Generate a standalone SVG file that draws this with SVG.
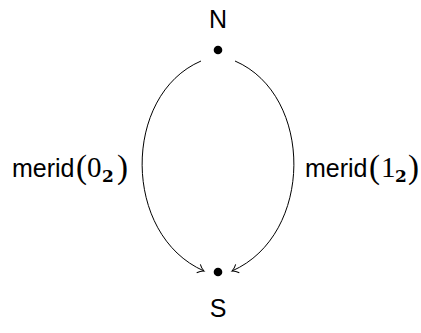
<svg xmlns="http://www.w3.org/2000/svg" width="421" height="333" viewBox="0 0 421 333">
<style>
.lbl{font-family:"Liberation Sans",Arial,sans-serif;font-size:25px;fill:#000}
.p{font-family:"Liberation Serif","Times New Roman",serif;font-size:33px}
.m{font-family:"Liberation Serif","Times New Roman",serif;font-size:29px}
.sub{font-family:"DejaVu Serif","Liberation Serif",serif;font-weight:bold;font-size:17px}
.edge{fill:none;stroke:#000;stroke-width:1}
</style>
<defs>
<marker id="arr" markerWidth="12" markerHeight="12" refX="9" refY="6" orient="auto" markerUnits="userSpaceOnUse">
<path d="M3,1.5 Q6,5 9,6 Q6,7 3,10.5" fill="none" stroke="#000" stroke-width="1"/>
</marker>
</defs>
<rect width="421" height="333" fill="#fff"/>
<g id="N">
<circle cx="218" cy="50" r="4.3" fill="#000"/>
<text class="lbl" x="218" y="28" text-anchor="middle">N</text>
</g>
<g id="S">
<circle cx="218" cy="272" r="4.3" fill="#000"/>
<text class="lbl" x="218" y="317" text-anchor="middle">S</text>
</g>
<g id="connectors">
<path class="edge" d="M201,61 C122,95 122,235 204,271" marker-end="url(#arr)"/>
<path class="edge" d="M235,61 C314,95 314,235 232,271" marker-end="url(#arr)"/>
</g>
<g id="label-left">
<text class="lbl" y="177"><tspan x="12">merid</tspan><tspan class="p" x="76" dy="1">(</tspan><tspan class="m" x="87" dy="-1">0</tspan><tspan class="sub" x="102" dy="5">2</tspan><tspan class="p" x="117" dy="-4">)</tspan></text>
</g>
<g id="label-right">
<text class="lbl" y="177"><tspan x="305">merid</tspan><tspan class="p" x="369" dy="1">(</tspan><tspan class="m" x="381" dy="-1">1</tspan><tspan class="sub" x="395" dy="5">2</tspan><tspan class="p" x="408" dy="-4">)</tspan></text>
</g>
</svg>
